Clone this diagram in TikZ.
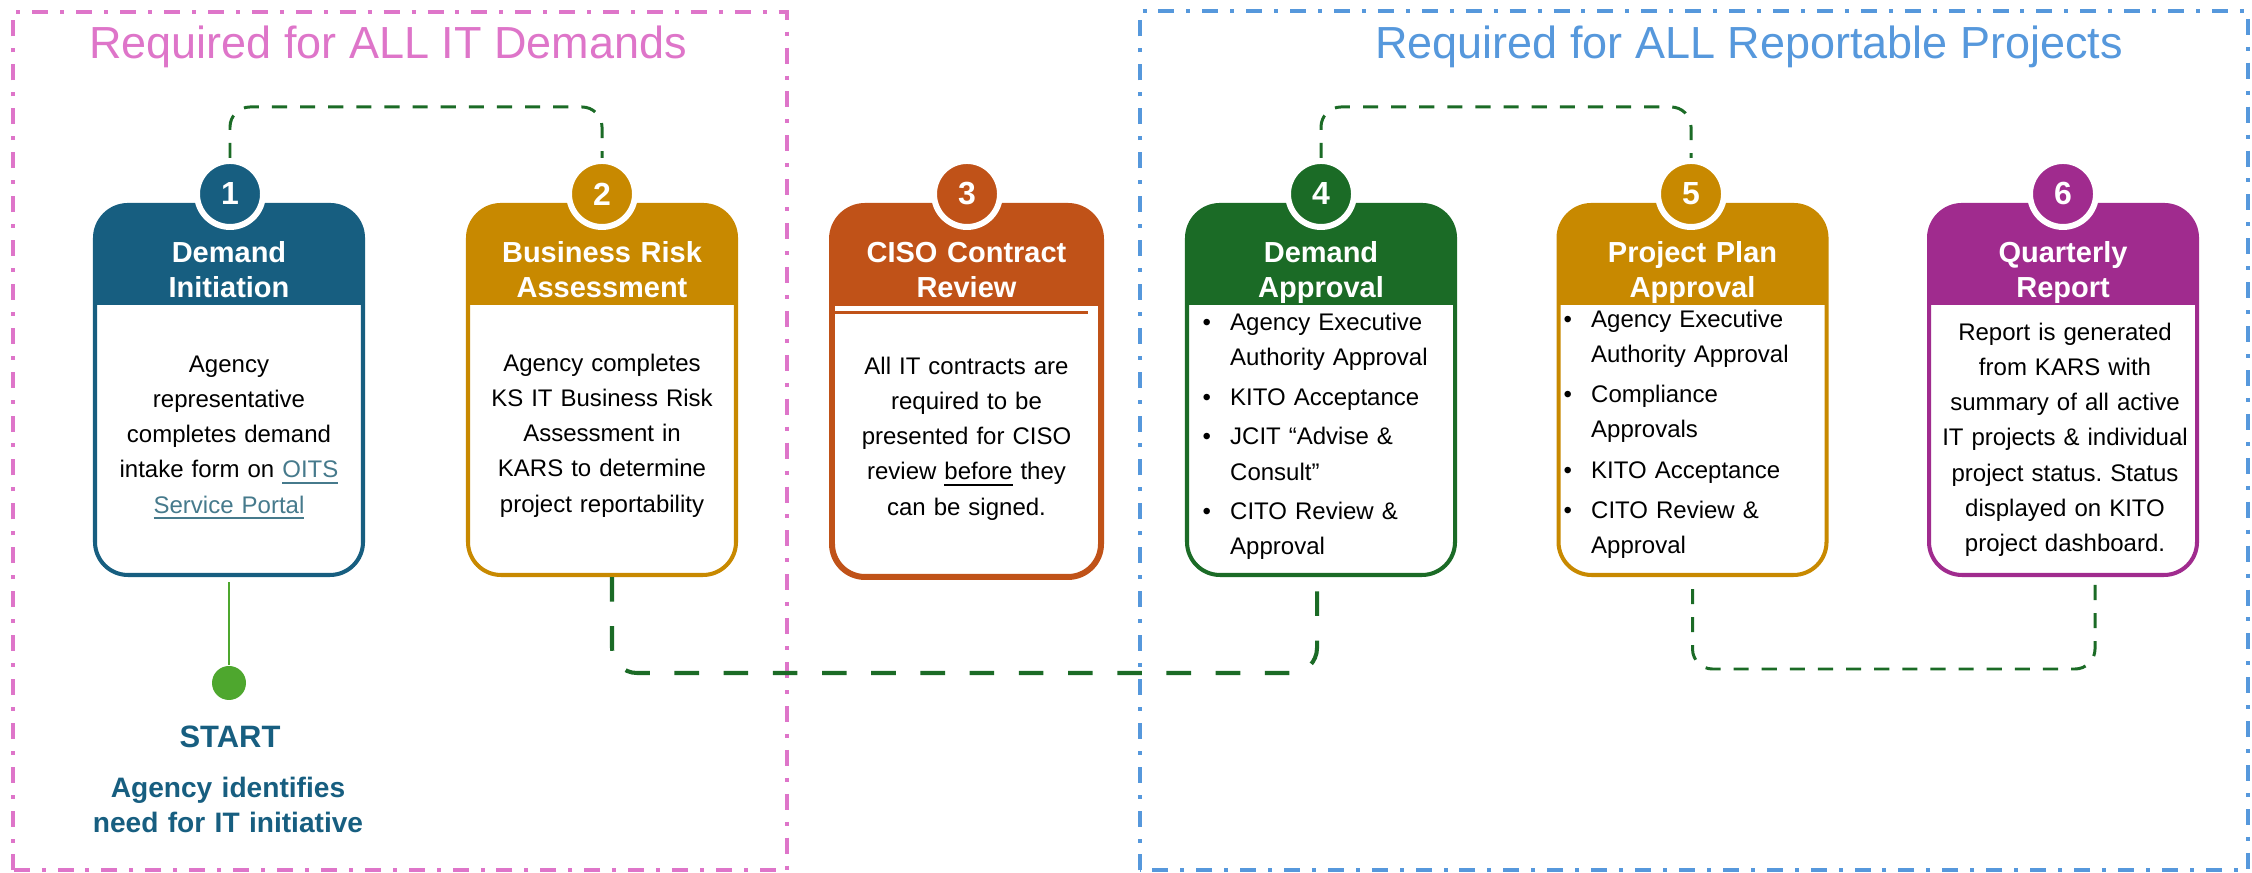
\documentclass[tikz,border=0pt]{standalone}
\usepackage{fontspec}
\setmainfont{Liberation Sans}
\usepackage{tikz}
\frenchspacing

\definecolor{stepblue}{RGB}{23,94,128}
\definecolor{stepgold}{RGB}{200,137,0}
\definecolor{steporange}{RGB}{192,82,24}
\definecolor{stepgreen}{RGB}{27,107,38}
\definecolor{steppurple}{RGB}{160,43,142}
\definecolor{zonepink}{RGB}{222,117,201}
\definecolor{zoneblue}{RGB}{86,152,220}
\definecolor{startgreen}{RGB}{78,167,46}
\definecolor{linkteal}{RGB}{70,122,140}

\newcommand{\stepbul}{\makebox[0.275cm][l]{\textbullet}}
\newcommand{\steppad}{\hspace*{0.275cm}}

\begin{document}
\begin{tikzpicture}[
    zone/.style={line width=1.14pt, dash pattern=on 4.55pt off 3.4pt on 1.14pt off 3.4pt},
    zonetitle/.style={anchor=base, inner sep=0pt, font=\fontsize{12.8}{15}\selectfont},
    stepbox/.style={draw=#1, fill=white, line width=1.15pt, rounded corners=0.33cm,
      minimum width=2.68cm, minimum height=3.70cm,
      path picture={\fill[#1, sharp corners] (path picture bounding box.north west) rectangle
        ([yshift=-1cm]path picture bounding box.north east);}},
    stepnum/.style={circle, fill=#1, draw=white, line width=1.7pt, minimum size=0.66cm,
      inner sep=0pt, text=white, font=\fontsize{9.1}{10}\selectfont\bfseries},
    stephead/.style={anchor=base, inner sep=0pt, text width=2.6cm, align=center,
      text=white, font=\fontsize{8.25}{9.96}\selectfont\bfseries},
    stepbody/.style={anchor=base, inner sep=0pt, text width=2.6cm, align=center,
      font=\fontsize{6.83}{9.96}\selectfont},
    steplist/.style={anchor=base west, inner sep=0pt, text width=2.55cm, align=left,
      font=\fontsize{6.83}{9.96}\selectfont},
    flowlink/.style={stepgreen, line width=0.85pt, dash pattern=on 4.3pt off 3.7pt,
      rounded corners=0.2cm},
  ]

  \useasboundingbox (0,0) rectangle (22.52,8.73);

  \draw[zone, zonepink] (0.13,0.025) rectangle (7.87,8.61);
  \draw[zone, zoneblue] (11.40,0.025) rectangle (22.48,8.62);
  \node[zonetitle, text=zonepink] (t1) at (3.88,8.14) {Required for ALL IT Demands};
  \node[zonetitle, text=zoneblue] (t2) at (17.49,8.14) {Required for ALL Reportable Projects};

  \node[stepbox=stepblue] (b1) at (2.29,4.83) {};
  \node[stepbox=stepgold] (b2) at (6.02,4.83) {};
  \node[stepbox=steporange, line width=1.7pt, minimum width=2.69cm, minimum height=3.71cm] (b3) at (9.665,4.815) {};
  \node[stepbox=stepgreen] (b4) at (13.21,4.83) {};
  \node[stepbox=stepgold] (b5) at (16.925,4.83) {};
  \node[stepbox=steppurple] (b6) at (20.63,4.83) {};
  \draw[steporange, line width=0.7pt] (8.35,5.605) -- (10.88,5.605);

  \node[stepnum=stepblue] (c1) at (2.30,6.79) {1};
  \node[stepnum=stepgold] (c2) at (6.02,6.79) {2};
  \node[stepnum=steporange] (c3) at (9.67,6.79) {3};
  \node[stepnum=stepgreen] (c4) at (13.21,6.79) {4};
  \node[stepnum=stepgold] (c5) at (16.91,6.79) {5};
  \node[stepnum=steppurple] (c6) at (20.63,6.79) {6};

  \node[stephead] (h1) at (2.29,6.10) {Demand\\Initiation};
  \node[stephead] (h2) at (6.02,6.10) {Business Risk\\Assessment};
  \node[stephead] (h3) at (9.665,6.10) {CISO Contract\\Review};
  \node[stephead] (h4) at (13.21,6.10) {Demand\\Approval};
  \node[stephead] (h5) at (16.925,6.10) {Project Plan\\Approval};
  \node[stephead] (h6) at (20.63,6.10) {Quarterly\\Report};

  \node[stepbody] (d1) at (2.29,5.00) {Agency\\representative\\completes demand\\intake form on {\color{linkteal}\underline{OITS}}\\{\color{linkteal}\underline{Service Portal}}};
  \node[stepbody] (d2) at (6.02,5.01) {Agency completes\\KS IT Business Risk\\Assessment in\\KARS to determine\\project reportability};
  \node[stepbody] (d3) at (9.665,4.98) {All IT contracts are\\required to be\\presented for CISO\\review \underline{before} they\\can be signed.};
  \node[steplist] (d4) at (12.02,5.42) {\stepbul Agency Executive\\\steppad Authority Approval\\[0.045cm]
    \stepbul KITO Acceptance\\[0.045cm]
    \stepbul JCIT “Advise \&\\\steppad Consult”\\[0.045cm]
    \stepbul CITO Review \&\\\steppad Approval};
  \node[steplist] (d5) at (15.63,5.45) {\stepbul Agency Executive\\\steppad Authority Approval\\[0.05cm]
    \stepbul Compliance\\\steppad Approvals\\[0.05cm]
    \stepbul KITO Acceptance\\[0.05cm]
    \stepbul CITO Review \&\\\steppad Approval};
  \node[stepbody] (d6) at (20.65,5.32) {Report is generated\\from KARS with\\summary of all active\\IT projects \& individual\\project status. Status\\displayed on KITO\\project dashboard.};

  \draw[flowlink] (c1.north) -- ++(0,0.51) -| (c2.north);
  \draw[flowlink] (c4.north) -- ++(0,0.51) -| (c5.north);
  \draw[flowlink, line width=1.15pt, dash pattern=on 7pt off 7pt, rounded corners=0.25cm]
    ([xshift=0.1cm]b2.south) -- ++(0,-0.96) -| ([xshift=-0.04cm]b4.south);
  \draw[flowlink] ([yshift=-0.12cm]b5.south) -- ++(0,-0.80) -| ([xshift=0.32cm]b6.south);

  \node[circle, fill=startgreen, minimum size=0.34cm, inner sep=0pt] (dot) at (2.29,1.90) {};
  \draw[startgreen, line width=0.85pt] ([yshift=-0.05cm]b1.south) -- (dot);
  \node[anchor=base, inner sep=0pt, text=stepblue, font=\fontsize{8.8}{10}\selectfont\bfseries] (start) at (2.30,1.25) {START};
  \node[anchor=base, inner sep=0pt, text=stepblue, text width=3.2cm, align=center,
    font=\fontsize{8}{9.96}\selectfont\bfseries] (need) at (2.28,0.75) {Agency identifies\\need for IT initiative};

\end{tikzpicture}
\end{document}
